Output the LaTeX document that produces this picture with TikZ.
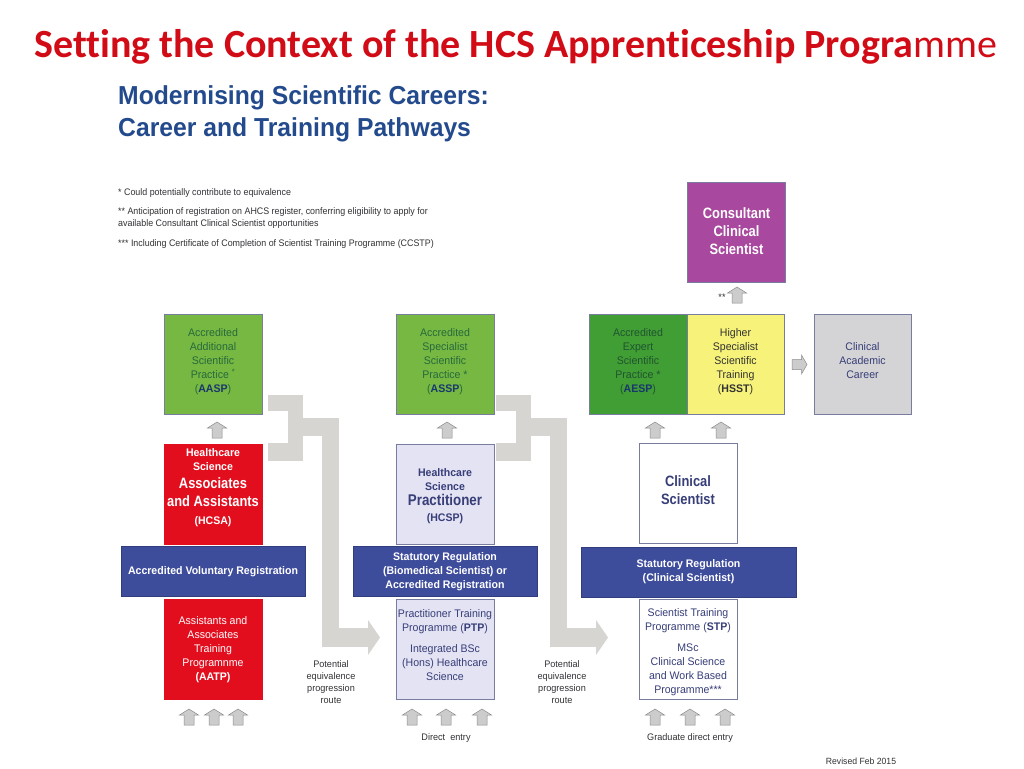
\documentclass[tikz,border=0pt]{standalone}
\usepackage{fontspec}
\setmainfont{Liberation Sans}
\newfontfamily\titlefont[Ligatures=NoCommon]{Carlito}
\newfontfamily\nf[FakeStretch=0.96]{Liberation Sans}
\newfontfamily\nfc[FakeStretch=0.86]{Liberation Sans}
\newfontfamily\notef[FakeStretch=0.935]{Liberation Sans}
\newfontfamily\subfont[FakeStretch=0.95]{Liberation Sans}
\definecolor{titlered}{RGB}{210,12,22}
\definecolor{subblue}{RGB}{34,74,140}
\definecolor{greenA}{RGB}{118,184,66}
\definecolor{greenB}{RGB}{64,158,52}
\definecolor{greentext}{RGB}{40,105,60}
\definecolor{abbrblue}{RGB}{25,55,110}
\definecolor{yel}{RGB}{246,242,122}
\definecolor{purp}{RGB}{168,72,158}
\definecolor{redbox}{RGB}{226,14,30}
\definecolor{navy}{RGB}{62,76,156}
\definecolor{lav}{RGB}{227,227,243}
\definecolor{grbox}{RGB}{212,212,214}
\definecolor{route}{RGB}{214,213,210}
\definecolor{boxline}{RGB}{120,125,160}
\definecolor{darktext}{RGB}{55,62,120}
\definecolor{notetext}{RGB}{50,50,55}
\newcommand{\grayroute}{%
  \fill[route] (268,395) rectangle (303,411);
  \fill[route] (288,395) rectangle (303,461);
  \fill[route] (268,443) rectangle (303,461);
  \fill[route] (303,418) rectangle (339,436);
  \fill[route] (322,418) rectangle (339,647);
  \fill[route] (322,628) rectangle (368,647);
  \fill[route] (368,620) -- (380,637.5) -- (368,655) -- cycle;}
\tikzset{
  box/.style={draw=boxline, line width=0.6pt, minimum width=98, minimum height=100, inner sep=0pt},
  btext/.style={align=center, inner sep=0pt, font=\nf\fontsize{11}{14}\selectfont},
  bigbold/.style={align=center, inner sep=0pt, font=\nfc\bfseries\fontsize{15}{18}\selectfont},
  bar/.style={draw=navy!80!black, line width=0.6pt, fill=navy, text=white, minimum height=50, inner sep=0pt, align=center, font=\nf\bfseries\fontsize{11}{14}\selectfont},
  smalltext/.style={align=center, text=notetext, inner sep=0pt, font=\nf\fontsize{9.5}{12}\selectfont},
  note/.style={anchor=west, align=left, text=notetext, inner sep=0pt, font=\notef\fontsize{9.5}{12}\selectfont},
  blockarrow/.style={fill=black!20, draw=black!45, line width=0.5pt, line join=miter},
  uparr/.pic={\draw[blockarrow] (-5,8) -- (-5,-2) -- (-9.5,-2) -- (0,-8) -- (9.5,-2) -- (5,-2) -- (5,8) -- cycle;},
  rightarr/.pic={\draw[blockarrow] (-7.5,-5) -- (2,-5) -- (2,-9.5) -- (7.5,0) -- (2,9.5) -- (2,5) -- (-7.5,5) -- cycle;}
}
\begin{document}
\begin{tikzpicture}[x=1pt,y=-1pt]
\useasboundingbox[fill=white] (0,0) rectangle (1024,768);

% title
\node[anchor=base west, inner sep=0pt, text=titlered, font=\titlefont\fontsize{40}{44}\selectfont] (title) at (34,58) {\textbf{Setting the Context of the HCS Apprenticeship Progra}mme};
\node[anchor=base west, inner sep=0pt, text=subblue, font=\subfont\bfseries\fontsize{26}{32}\selectfont] (sub1) at (118,104) {Modernising Scientific Careers:};
\node[anchor=base west, inner sep=0pt, text=subblue, font=\subfont\bfseries\fontsize{26}{32}\selectfont] (sub2) at (118,136) {Career and Training Pathways};

% notes
\node[note] (n1) at (118,193) {* Could potentially contribute to equivalence};
\node[note] (n2) at (118,218) {** Anticipation of registration on AHCS register, conferring eligibility to apply for\\available Consultant Clinical Scientist opportunities};
\node[note] (n3) at (118,244) {*** Including Certificate of Completion of Scientist Training Programme (CCSTP)};

% gray routes
\grayroute
\begin{scope}[shift={(228,0)}]
\grayroute
\end{scope}

% left column
\node[box, fill=greenA] (aasp) at (213,364) {};
\node[btext, text=greentext] (aasp-t) at (213,362) {Accredited\\Additional\\Scientific\\Practice \textsuperscript{*}\\(\textcolor{abbrblue}{\bfseries AASP})};
\node[box, draw=redbox, fill=redbox] (hcsa) at (213,494.5) {};
\node[btext, text=white, font=\nf\bfseries\fontsize{11}{14}\selectfont] (hcsa-t) at (213,488) {Healthcare\\Science\\[4pt]{\nfc\fontsize{15}{14}\selectfont Associates}\\[4pt]{\nfc\fontsize{15}{14}\selectfont and Assistants}\\[4pt](HCSA)};
\node[bar, minimum width=184] (avr) at (213,571.5) {Accredited Voluntary Registration};
\node[box, draw=redbox, fill=redbox] (aatp) at (213,649.5) {};
\node[btext, text=white] (aatp-t) at (213,649.5) {Assistants and\\Associates\\Training\\Programnme\\\textbf{(AATP)}};

% middle column
\node[box, fill=greenA] (assp) at (445,364.5) {};
\node[btext, text=greentext] (assp-t) at (445,362) {Accredited\\Specialist\\Scientific\\Practice *\\(\textcolor{abbrblue}{\bfseries ASSP})};
\node[box, fill=lav] (hcsp) at (445,494) {};
\node[btext, text=darktext, font=\nf\bfseries\fontsize{11}{14}\selectfont] (hcsp-t) at (445,496) {Healthcare\\Science\\[1pt]{\nfc\fontsize{15.5}{14}\selectfont Practitioner}\\[2pt](HCSP)};
\node[bar, minimum width=184] (sr1) at (445,571.5) {Statutory Regulation\\(Biomedical Scientist) or\\Accredited Registration};
\node[box, fill=lav] (ptp) at (445,649.5) {};
\node[btext, text=darktext] (ptp-t) at (445,645.5) {Practitioner Training\\Programme (\textbf{PTP})\\[7pt]Integrated BSc\\(Hons) Healthcare\\Science};

% right column
\node[box, fill=purp] (ccs) at (736.5,232) {};
\node[bigbold, text=white] (ccs-t) at (736.5,231) {Consultant\\Clinical\\Scientist};
\node[box, fill=greenB] (aesp) at (638,364) {};
\node[btext, text=greentext!80!black] (aesp-t) at (638,362) {Accredited\\Expert\\Scientific\\Practice *\\(\textcolor{abbrblue}{\bfseries AESP})};
\node[box, fill=yel, minimum width=97] (hsst) at (735.5,364) {};
\node[btext, text=black!80] (hsst-t) at (735.5,362) {Higher\\Specialist\\Scientific\\Training\\(\textbf{HSST})};
\node[box, fill=grbox, minimum width=97] (cac) at (862.5,364) {};
\node[btext, text=darktext] (cac-t) at (862.5,361) {Clinical\\Academic\\Career};
\node[box, fill=white] (cs) at (688,493.5) {};
\node[bigbold, text=darktext] (cs-t) at (688,490) {Clinical\\Scientist};
\node[bar, minimum width=215] (sr2) at (688.5,572) {Statutory Regulation\\(Clinical Scientist)};
\node[box, fill=white] (stp) at (688,649.5) {};
\node[btext, text=darktext] (stp-t) at (688,652.5) {Scientist Training\\Programme (\textbf{STP})\\[7pt]MSc\\Clinical Science\\and Work Based\\Programme***};

% small block arrows
\pic at (217,430) {uparr};
\pic at (447,430) {uparr};
\pic at (655,430) {uparr};
\pic at (721,430) {uparr};
\pic at (737,295) {uparr};
\pic at (799.5,364.5) {rightarr};
\pic at (189,717) {uparr};
\pic at (214,717) {uparr};
\pic at (238,717) {uparr};
\pic at (412,717) {uparr};
\pic at (446,717) {uparr};
\pic at (482,717) {uparr};
\pic at (655,717) {uparr};
\pic at (690,717) {uparr};
\pic at (725,717) {uparr};

% labels
\node[smalltext] (stars) at (722,297) {**};
\node[smalltext] (pe1) at (331,682) {Potential\\equivalence\\progression\\route};
\node[smalltext] (pe2) at (562,682) {Potential\\equivalence\\progression\\route};
\node[smalltext] (de) at (446,738) {Direct\ \ entry};
\node[smalltext] (gde) at (690,738) {Graduate direct entry};
\node[smalltext, font=\nf\fontsize{9}{12}\selectfont] (rev) at (861,761) {Revised Feb 2015};
\end{tikzpicture}
\end{document}
